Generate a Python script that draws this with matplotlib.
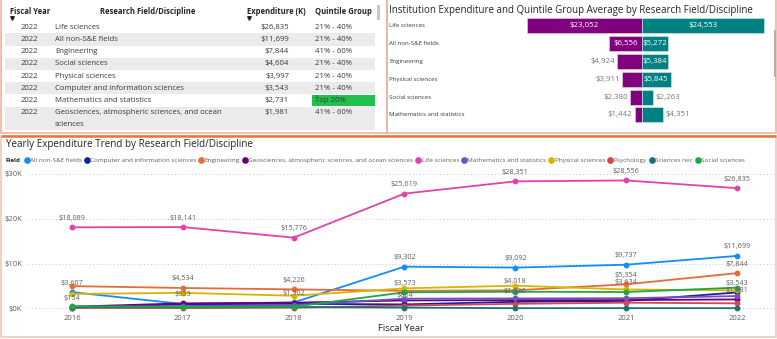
import numpy as np
import matplotlib.pyplot as plt
from matplotlib import transforms
from matplotlib.patches import Rectangle
from matplotlib.lines import Line2D
from matplotlib.ticker import FuncFormatter

W, H = 777, 339
plt.rcParams['font.family'] = ['Open Sans', 'DejaVu Sans']

# 2022 expenditure table
table_year = 2022
table_fields = ["Life sciences", "All non-S&E fields", "Engineering", "Social sciences",
                "Physical sciences", "Computer and information sciences",
                "Mathematics and statistics",
                "Geosciences, atmospheric sciences, and ocean\nsciences"]
table_spend = [26835, 11699, 7844, 4604, 3997, 3543, 2731, 1981]
table_quintile = ["21% - 40%", "21% - 40%", "41% - 60%", "21% - 40%",
                  "21% - 40%", "21% - 40%", "Top 20%", "41% - 60%"]

# institution vs. quintile group average
bar_fields = ["Life sciences", "All non-S&E fields", "Engineering",
              "Physical sciences", "Social sciences", "Mathematics and statistics"]
inst_spend = [23052, 6556, 4924, 3911, 2380, 1442]
group_avg = [24553, 5272, 5384, 5845, 2263, 4351]

# yearly trend per field
years = [2016, 2017, 2018, 2019, 2020, 2021, 2022]
field_names = ["All non-S&E fields", "Computer and information sciences", "Engineering",
               "Geosciences, atmospheric sciences, and ocean sciences", "Life sciences",
               "Mathematics and statistics", "Physical sciences", "Psychology",
               "Sciences nec", "Social sciences"]
field_colors = ["#118DFF", "#12239E", "#E66C37", "#6B007B", "#E044A7",
                "#744EC2", "#D9B300", "#D64550", "#197278", "#1AAB40"]
non_se = [3607, 953, 1302, 9302, 9092, 9737, 11699]
computer = [154, 900, 1000, 864, 1450, 1650, 3543]
engineering = [4950, 4534, 4226, 3900, 4018, 5354, 7844]
geosciences = [350, 1100, 1250, 1750, 1820, 1831, 1981]
life = [18089, 18141, 15776, 25619, 28351, 28556, 26835]
math_stats = [300, 500, 700, 2150, 2200, 2250, 2731]
physical = [3200, 3450, 2800, 4450, 5050, 4200, 3997]
psychology = [80, 60, 150, 600, 1000, 1250, 1100]
sciences_nec = [250, 200, 250, 150, 30, 30, 30]
social = [450, 300, 350, 3573, 3700, 3634, 4604]
trend = [non_se, computer, engineering, geosciences, life,
         math_stats, physical, psychology, sciences_nec, social]

# points that carry a value label: (series index, year)
labelled = [(4, y) for y in years] + \
           [(0, y) for y in years] + \
           [(2, 2017), (2, 2018), (2, 2020), (2, 2021), (2, 2022),
            (1, 2016), (1, 2019), (1, 2022), (3, 2020), (3, 2022),
            (9, 2019), (9, 2021)]


def px(left, top, width, height):
    return [left / W, 1 - (top + height) / H, width / W, height / H]


fig = plt.figure(figsize=(W / 100, H / 100), dpi=100, facecolor='white')

# overlay in pixel units for panels, table and titles
ov = fig.add_axes([0, 0, 1, 1])
ov.set_xlim(0, W)
ov.set_ylim(H, 0)
ov.axis('off')

panel_edge = '#F2B49B'
ov.add_patch(Rectangle((1, -3), 385.5, 136, fill=False, ec=panel_edge, lw=1.2))
ov.add_patch(Rectangle((386.5, -3), 389.5, 136, fill=False, ec=panel_edge, lw=1.2))
ov.add_patch(Rectangle((1, 135.5), 774.5, 201, fill=False, ec='#F3C6B3', lw=1.2))
ov.plot([1, 775.5], [135.5, 135.5], color='#E8743B', lw=1.8, solid_capstyle='butt')

# scrollbars
ov.add_patch(Rectangle((377, 5), 3, 15, color='#C8C6C4', lw=0))
ov.add_patch(Rectangle((773.5, 30), 2.5, 47, color='#B3B0AD', lw=0))

# table
text_dark = '#252423'
text_row = '#3B3A39'
head_fs = 5.5
row_fs = 5.6
ov.text(10, 11, "Fiscal Year", fontsize=head_fs, fontweight='bold', color=text_dark, va='center')
ov.text(147.5, 11, "Research Field/Discipline", fontsize=head_fs, fontweight='bold',
        color=text_dark, va='center', ha='center')
ov.text(247, 11, "Expenditure (K)", fontsize=head_fs, fontweight='bold', color=text_dark, va='center')
ov.text(315, 11, "Quintile Group", fontsize=head_fs, fontweight='bold', color=text_dark, va='center')
ov.plot([12, 248.5], [18, 18], ls='none', marker='v', ms=2.6, color=text_dark)

row_h = 12.2
line_h = 11.4
for i, (field, spend, quint) in enumerate(zip(table_fields, table_spend, table_quintile)):
    yc = 27.3 + i * row_h
    n_lines = field.count('\n') + 1
    if i % 2 == 1:
        ov.add_patch(Rectangle((5, yc - row_h / 2), 370, row_h + (n_lines - 1) * line_h,
                               color='#EBEBEB', lw=0))
    if quint == "Top 20%":
        ov.add_patch(Rectangle((311.7, yc - 5.8), 63.3, 11.6, color='#21BF4B', lw=0))
    ov.text(29, yc, str(table_year), fontsize=row_fs, color=text_row, ha='center', va='center')
    for j, line in enumerate(field.split('\n')):
        ov.text(55, yc + j * line_h, line, fontsize=row_fs, color=text_row, va='center')
    ov.text(289, yc, f"${spend:,}", fontsize=row_fs, color=text_row, ha='right', va='center')
    ov.text(315, yc, quint, fontsize=row_fs, color=text_row, va='center')

# titles
ov.text(389, 11, "Institution Expenditure and Quintile Group Average by Research Field/Discipline",
        fontsize=7.0, color=text_dark, va='center')
ov.text(6, 144, "Yearly Expenditure Trend by Research Field/Discipline",
        fontsize=7.1, color=text_dark, va='center')

# diverging bars
axb = fig.add_axes(px(512.2, 16.8, 259, 107.1))
axb.patch.set_alpha(0)
rows = np.arange(len(bar_fields))
axb.barh(rows, [-v for v in inst_spend], height=0.84, color='#800080',
         edgecolor='#E8D8E8', lw=0.4)
axb.barh(rows, group_avg, height=0.84, color='#008080', edgecolor='#D8ECEC', lw=0.4)
axb.set_xlim(-26050, 26050)
axb.set_ylim(len(bar_fields) - 0.5, -0.5)
axb.axis('off')
bar_fs = 5.7
for i, (a, b) in enumerate(zip(inst_spend, group_avg)):
    if a > 5000:
        axb.text(-a / 2, i, f"${a:,}", fontsize=bar_fs, color='white', ha='center', va='center')
    else:
        axb.annotate(f"${a:,}", (-a, i), xytext=(-1.5, 0), textcoords='offset points',
                     fontsize=bar_fs, color='#777777', ha='right', va='center')
    if b > 5000:
        axb.text(b / 2, i, f"${b:,}", fontsize=bar_fs, color='white', ha='center', va='center')
    else:
        axb.annotate(f"${b:,}", (b, i), xytext=(1.5, 0), textcoords='offset points',
                     fontsize=bar_fs, color='#777777', ha='left', va='center')
cat_tr = transforms.blended_transform_factory(fig.transFigure, axb.transData)
for i, name in enumerate(bar_fields):
    axb.text(389 / W, i, name, transform=cat_tr, fontsize=4.45, color=text_row,
             va='center', ha='left')

# trend lines
ax = fig.add_axes(px(28, 170, 747, 142))
ax.patch.set_alpha(0)
for vals, color in zip(trend, field_colors):
    ax.plot(years, vals, color=color, lw=1.3, marker='o', ms=3.2)
for k, yr in labelled:
    v = trend[k][years.index(yr)]
    ax.annotate(f"${v:,}", (yr, v), xytext=(0, 4.0), textcoords='offset points',
                ha='center', va='bottom', fontsize=5.2, color='#605E5C')
ax.set_xlim(2015.603, 2022.343)
ax.set_ylim(-830, 30890)
ax.set_xticks(years)
ax.set_yticks([0, 10000, 20000, 30000])
ax.yaxis.set_major_formatter(FuncFormatter(lambda v, p: f"${v / 1000:.0f}K"))
ax.tick_params(length=0, labelsize=5.5, labelcolor='#605E5C')
ax.tick_params(axis='x', pad=2.0)
ax.tick_params(axis='y', pad=4.3)
ax.yaxis.grid(True, ls=(0, (1, 2.5)), color='#C8C6C4', lw=0.7)
for s in ax.spines.values():
    s.set_visible(False)
ax.set_xlabel("Fiscal Year", fontsize=6.8, color=text_dark, labelpad=1.5)

# legend
ov.text(6, 160.7, "Field", fontsize=4.5, fontweight='bold', color=text_dark, va='center')
handles = [Line2D([], [], marker='o', ls='none', color=c, ms=3.8) for c in field_colors]
fig.legend(handles, field_names, ncol=10, loc='center left',
           bbox_to_anchor=(24.5 / W, 1 - 160.7 / H), frameon=False, fontsize=4.6,
           labelcolor='#605E5C', handlelength=0.7, handletextpad=0.15,
           columnspacing=0.45, borderpad=0, borderaxespad=0)

fig.savefig("out.png", dpi=100, facecolor='white')
